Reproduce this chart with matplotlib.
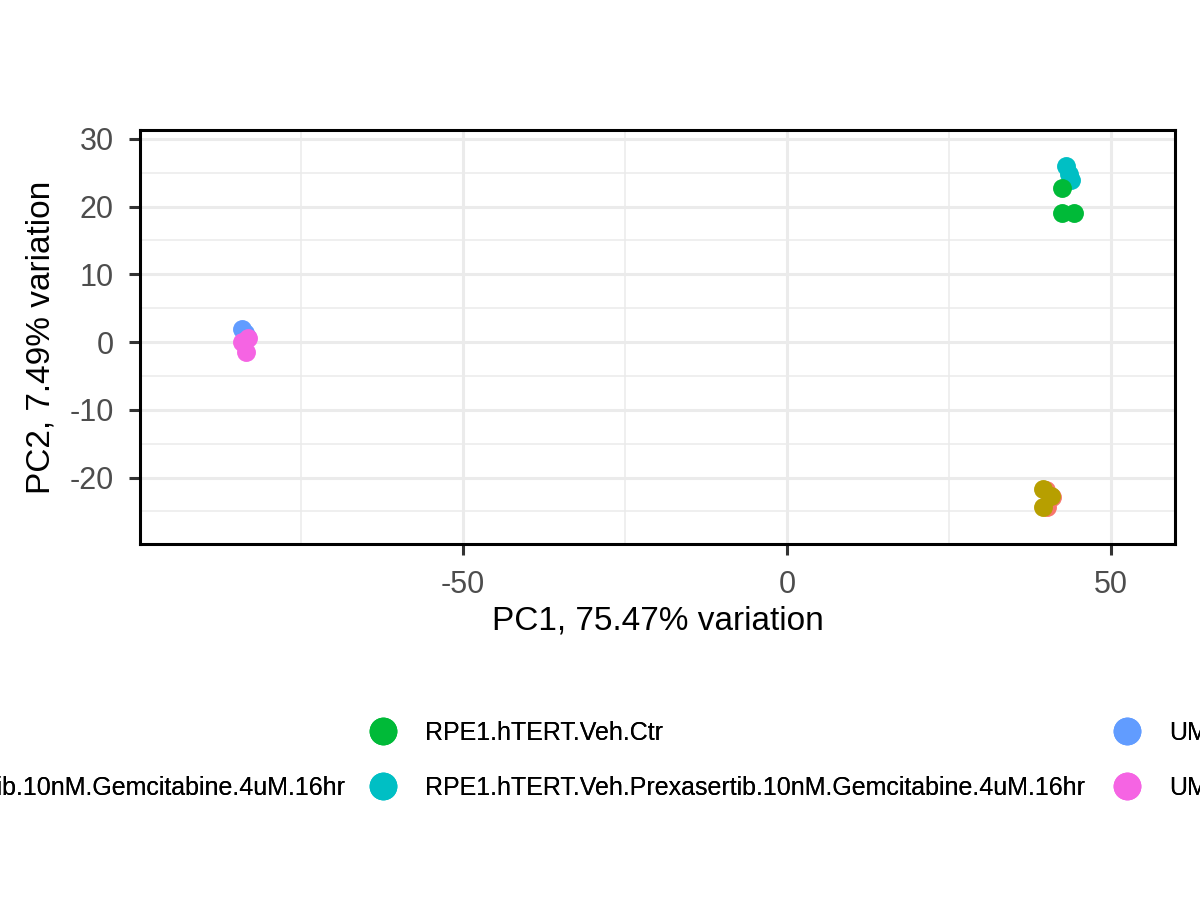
import matplotlib
matplotlib.use("Agg")
import matplotlib.pyplot as plt
from matplotlib.lines import Line2D
from matplotlib.ticker import MultipleLocator

plt.rcParams["font.family"] = ["Liberation Sans", "DejaVu Sans"]
plt.rcParams["axes.unicode_minus"] = False

# sample groups (legend order) and ggplot hue colours
groups = [
    "RPE1.hTERT.Ctr",
    "RPE1.hTERT.Prexasertib.10nM.Gemcitabine.4uM.16hr",
    "RPE1.hTERT.Veh.Ctr",
    "RPE1.hTERT.Veh.Prexasertib.10nM.Gemcitabine.4uM.16hr",
    "UMUC3.Veh.Ctr",
    "UMUC3.Veh.Prexasertib.10nM.Gemcitabine.4uM.16hr",
]
colors = ["#F8766D", "#B79F00", "#00BA38", "#00BFC4", "#619CFF", "#F564E3"]

# PC scores per group
pc1 = [
    [40.1, 40.9, 40.0],
    [39.5, 40.7, 39.5],
    [42.4, 42.4, 44.3],
    [43.1, 43.8, 43.5],
    [-84.1, -83.6, -83.3],
    [-84.0, -83.2, -83.5],
]
pc2 = [
    [-24.3, -22.9, -21.8],
    [-21.7, -22.7, -24.3],
    [22.7, 19.0, 19.0],
    [26.0, 23.9, 24.8],
    [1.9, 1.3, 0.7],
    [0.0, 0.6, -1.5],
]
draw_order = [0, 1, 3, 2, 4, 5]

xlab = "PC1, 75.47% variation"
ylab = "PC2, 7.49% variation"

fig = plt.figure(figsize=(12, 9), dpi=100)
ax = fig.add_axes([0.1167, 0.3956, 0.9792 - 0.1167, 0.8556 - 0.3956])

for i in draw_order:
    ax.scatter(pc1[i], pc2[i], s=185, color=colors[i], linewidths=0, zorder=3)

ax.set_xlim(-99.8, 59.9)
ax.set_ylim(-29.8, 31.3)
ax.xaxis.set_major_locator(MultipleLocator(50))
ax.xaxis.set_minor_locator(MultipleLocator(25))
ax.yaxis.set_major_locator(MultipleLocator(10))
ax.yaxis.set_minor_locator(MultipleLocator(5))
ax.set_yticks([-20, -10, 0, 10, 20, 30])

ax.grid(which="major", color="#EBEBEB", linewidth=2.2, zorder=0)
ax.grid(which="minor", color="#EBEBEB", linewidth=1.1, zorder=0)
ax.set_axisbelow(True)
for sp in ax.spines.values():
    sp.set_color("black")
    sp.set_linewidth(2.2)
ax.tick_params(which="major", length=8, width=2.2, color="#333333",
               labelsize=22, labelcolor="#4D4D4D", pad=11)
ax.tick_params(which="minor", length=0)

ax.set_xlabel(xlab, fontsize=24, color="black", labelpad=4)
ax.set_ylabel(ylab, fontsize=24, color="black", labelpad=9)

# legend: three columns, clipped by the figure edges like the original
handles = [Line2D([], [], linestyle="none", marker="o", markersize=20,
                  markerfacecolor=c, markeredgewidth=0) for c in colors]
leg_kw = dict(frameon=False, fontsize=18, borderpad=0, borderaxespad=0,
              handlelength=1.0, handletextpad=1.18, labelspacing=1.24)
cols = [
    (slice(0, 2), "center right", 345 / 1200),
    (slice(2, 4), "center left", 370.5 / 1200),
    (slice(4, 6), "center left", 1114.5 / 1200),
]
for sl, loc, xa in cols:
    lg = fig.legend(handles[sl], groups[sl], loc=loc,
                    bbox_to_anchor=(xa, 1 - 760.5 / 900), **leg_kw)
    fig.add_artist(lg)

fig.savefig("out.png", dpi=100, facecolor="white")
